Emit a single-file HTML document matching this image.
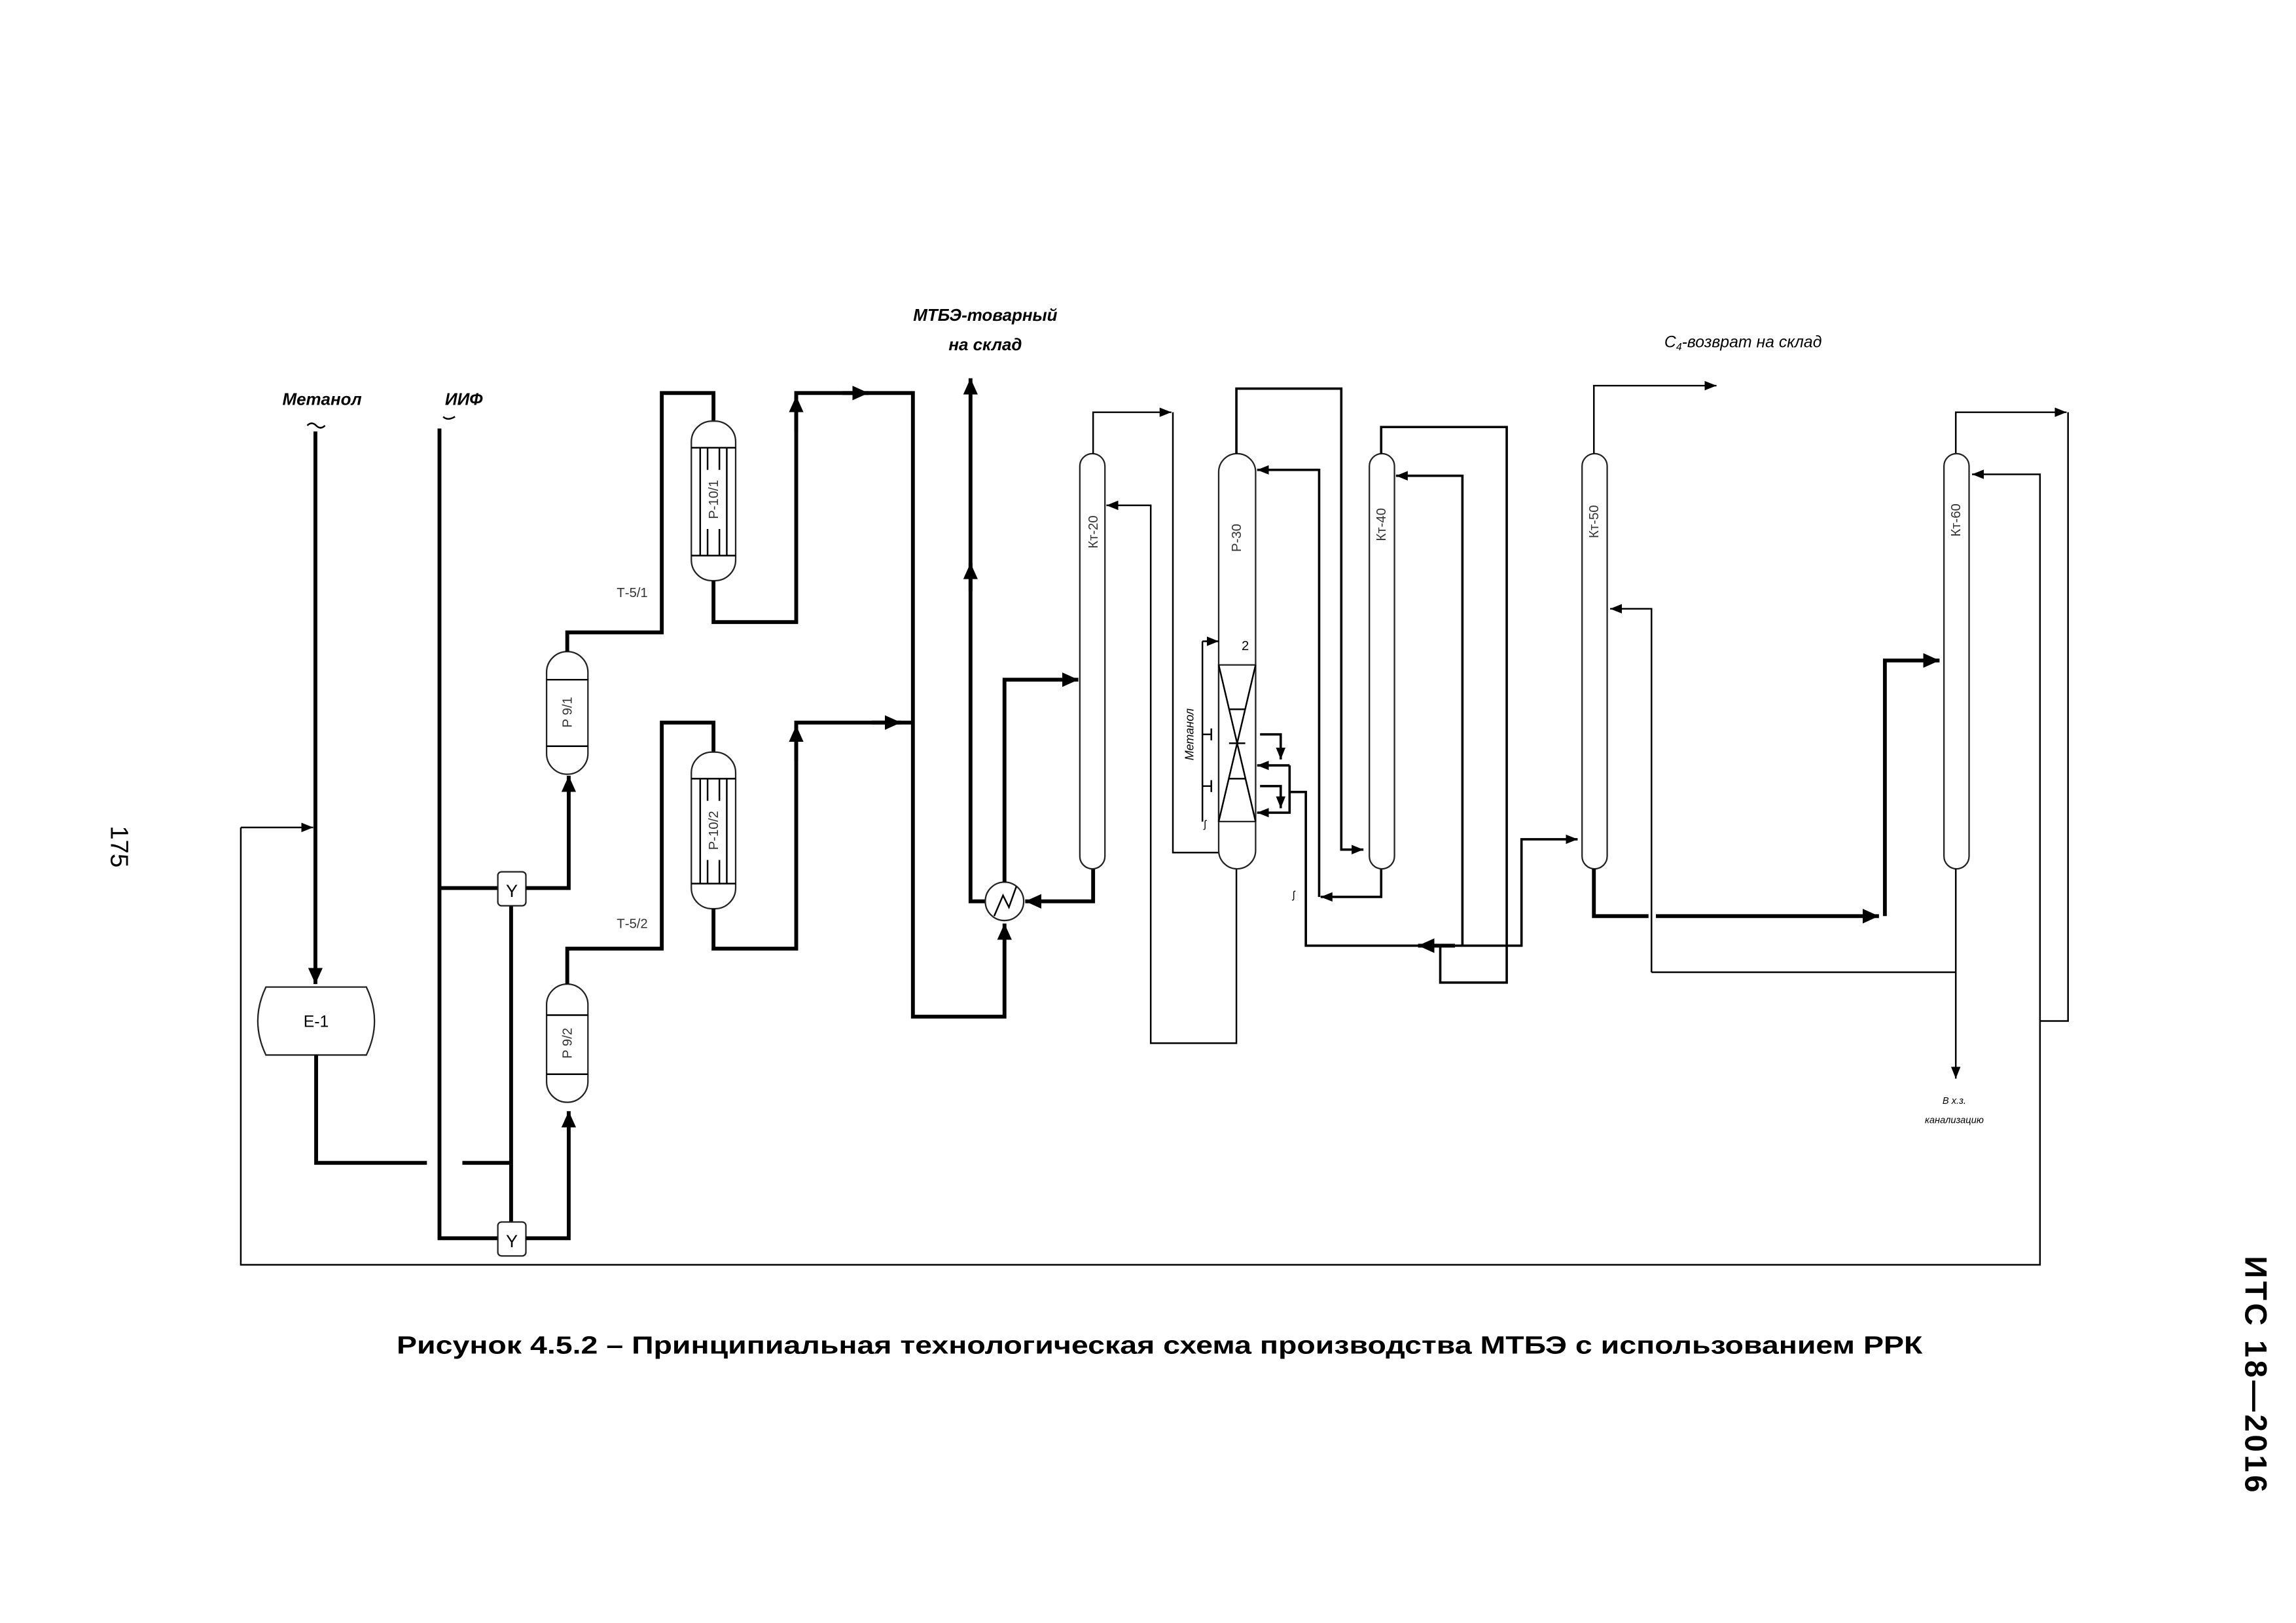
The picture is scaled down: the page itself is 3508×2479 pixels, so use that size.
<!DOCTYPE html>
<html><head><meta charset="utf-8"><style>
html,body{margin:0;padding:0;background:#fff;}
svg{display:block}
.t{fill:none;stroke:#000;stroke-width:2.6}
.n{fill:none;stroke:#000;stroke-width:1.1}
.m{fill:none;stroke:#000;stroke-width:1.6}
.v{fill:#fff;stroke:#222;stroke-width:1}
text{font-family:"Liberation Sans",sans-serif;fill:#000}
.lb{font-size:9px;fill:#333}
</style></head><body>
<svg width="3508" height="2479" viewBox="0 0 1554.3 1098.4" xmlns="http://www.w3.org/2000/svg">
<defs>
<marker id="a" viewBox="0 0 10 10" refX="10" refY="5" markerWidth="11" markerHeight="11" markerUnits="userSpaceOnUse" orient="auto"><path d="M0,0.5 L10,5 L0,9.5z" fill="#000"/></marker>
<marker id="b" viewBox="0 0 10 10" refX="10" refY="5" markerWidth="8" markerHeight="8" markerUnits="userSpaceOnUse" orient="auto"><path d="M0,1 L10,5 L0,9z" fill="#000"/></marker>
</defs>

<!-- page texts -->
<text x="75" y="573" font-size="17" transform="rotate(90 75 573)" text-anchor="middle">175</text>
<text x="1520" y="930" font-size="21" font-weight="bold" transform="rotate(90 1520 930)" text-anchor="middle" textLength="160">ИТС 18—2016</text>
<text x="785" y="916" font-size="17" font-weight="bold" text-anchor="middle" textLength="1033" lengthAdjust="spacingAndGlyphs">Рисунок 4.5.2 – Принципиальная технологическая схема производства МТБЭ с использованием РРК</text>

<!-- labels -->
<text x="218" y="274" font-size="11.5" font-weight="bold" font-style="italic" text-anchor="middle">Метанол</text>
<path class="n" d="M208,288 q3,-3 6,0 q3,3 6,0"/>
<text x="314" y="274" font-size="11.5" font-weight="bold" font-style="italic" text-anchor="middle">ИИФ</text>
<path class="n" d="M300,282 q3,3 8,0"/>
<text x="667" y="217" font-size="11.5" font-weight="bold" font-style="italic" text-anchor="middle">МТБЭ-товарный</text>
<text x="667" y="237" font-size="11.5" font-weight="bold" font-style="italic" text-anchor="middle">на склад</text>
<text x="1180" y="235" font-size="11" font-style="italic" text-anchor="middle" fill="#333">С<tspan font-size="7" dy="2">4</tspan><tspan dy="-2">-возврат на склад</tspan></text>
<text x="1323" y="747" font-size="6.5" font-style="italic" text-anchor="middle" fill="#333">В х.з.</text>
<text x="1323" y="760" font-size="6.5" font-style="italic" text-anchor="middle" fill="#333">канализацию</text>
<text x="428" y="404" class="lb" text-anchor="middle">Т-5/1</text>
<text x="428" y="628" class="lb" text-anchor="middle">Т-5/2</text>

<!-- left feed -->
<path class="t" d="M213.5,292 V666" marker-end="url(#a)"/>
<path class="n" d="M163,560 H212" marker-end="url(#b)"/>
<path class="n" d="M163,560 V856 H1381 V321 H1335" marker-end="url(#b)"/>
<path class="n" d="M1324,307 V279 H1399" marker-end="url(#b)"/>
<path class="n" d="M1400,279 V691 H1381"/>

<!-- E-1 -->
<path class="v" d="M180,668 H248 Q259,691 248,714 H180 Q169,691 180,668Z"/>
<text x="214" y="695" font-size="11" text-anchor="middle" fill="#333">E-1</text>
<path class="t" d="M214,714 V787 H289 M313,787 H346"/>
<path class="t" d="M297.5,290 V838 H337 M297.5,601 H337 M346,613 V827"/>
<rect x="337" y="590" width="19" height="23" rx="2.5" class="v" stroke-width="1.6"/>
<text x="346.5" y="607" font-size="12" text-anchor="middle">Y</text>
<rect x="337" y="827" width="19" height="23" rx="2.5" class="v" stroke-width="1.6"/>
<text x="346.5" y="844" font-size="12" text-anchor="middle">Y</text>
<path class="t" d="M356,601 H385 V525" marker-end="url(#a)"/>
<path class="t" d="M356,838 H385 V752" marker-end="url(#a)"/>

<!-- P9 -->
<rect x="370" y="441" width="28" height="83" rx="14" class="v"/>
<path class="n" d="M370,460 H398 M370,505 H398"/>
<text x="384" y="482" class="lb" text-anchor="middle" transform="rotate(-90 384 482)" dy="3">P 9/1</text>
<rect x="370" y="666" width="28" height="80" rx="14" class="v"/>
<path class="n" d="M370,687 H398 M370,727 H398"/>
<text x="384" y="706" class="lb" text-anchor="middle" transform="rotate(-90 384 706)" dy="3">P 9/2</text>

<!-- P10 -->
<path class="t" d="M384,441 V428 H448 V266 H483 V285"/>
<rect x="468" y="285" width="30" height="108" rx="14" class="v"/>
<path class="n" d="M468,303 H498 M468,376 H498 M474,303 V376 M479,303 V376 M487,303 V376 M492,303 V376"/>
<rect x="478" y="318" width="10" height="40" fill="#fff"/>
<text x="483" y="338" class="lb" text-anchor="middle" transform="rotate(-90 483 338)" dy="3">P-10/1</text>
<path class="t" d="M483,393 V421 H539 V266 H618 V688 H680 V625" marker-end="url(#a)"/>
<path class="t" d="M539,292 V268" marker-end="url(#a)"/>
<path class="t" d="M570,266 H588" marker-end="url(#a)"/>

<path class="t" d="M384,666 V642 H448 V489 H483 V509"/>
<rect x="468" y="509" width="30" height="106" rx="14" class="v"/>
<path class="n" d="M468,527 H498 M468,598 H498 M474,527 V598 M479,527 V598 M487,527 V598 M492,527 V598"/>
<rect x="478" y="542" width="10" height="40" fill="#fff"/>
<text x="483" y="562" class="lb" text-anchor="middle" transform="rotate(-90 483 562)" dy="3">P-10/2</text>
<path class="t" d="M483,615 V642 H539 V489 H618"/>
<path class="t" d="M539,515 V491" marker-end="url(#a)"/>
<path class="t" d="M590,489 H610" marker-end="url(#a)"/>

<!-- product / exchanger -->
<path class="t" d="M667,610 H657 V256" marker-end="url(#a)"/>
<path class="t" d="M657,400 V381" marker-end="url(#a)"/>
<circle cx="680" cy="610" r="13" class="v" stroke="#000" stroke-width="1.6"/>
<path class="n" d="M673,620 L679,606 L683,614 L688,600"/>
<path class="t" d="M680,597 V460 H730" marker-end="url(#a)"/>
<path class="t" d="M740,588 V610 H694" marker-end="url(#a)"/>

<!-- Kt-20 -->
<rect x="731" y="307" width="17" height="281" rx="8.5" class="v"/>
<text x="740" y="360" class="lb" text-anchor="middle" transform="rotate(-90 740 360)" dy="3">Кт-20</text>
<path class="n" d="M740,307 V279 H793" marker-end="url(#b)"/>
<path class="n" d="M794,279 V577 H825"/>
<path class="n" d="M837,588 V706 H779 V342 H749" marker-end="url(#b)"/>

<!-- P-30 -->
<rect x="825" y="307" width="25" height="281" rx="12.5" class="v"/>
<text x="837" y="364" class="lb" text-anchor="middle" transform="rotate(-90 837 364)" dy="3">Р-30</text>
<rect x="825" y="450" width="25" height="106" class="v"/>
<path class="n" d="M825,450 L850,556 M850,450 L825,556 M832,480 H843 M832,503 H843 M832,527 H843"/>
<text x="843" y="440" font-size="9" text-anchor="middle">2</text>
<path class="m" d="M837,307 V263 H908 V575 H923" marker-end="url(#b)"/>
<path class="m" d="M935,588 V607 H894" marker-end="url(#b)"/>
<path class="m" d="M893,607 V318 H851" marker-end="url(#b)"/>
<!-- methanol side -->
<path class="n" d="M814,434 V556 M814,434 H824"/>
<path class="n" d="M816,434 H825" marker-end="url(#b)"/>
<path class="n" d="M814,497 H820 M820,493 V501 M814,532 H820 M820,528 V536"/>
<text x="808" y="497" font-size="8" font-style="italic" text-anchor="middle" transform="rotate(-90 808 497)" fill="#333">Метанол</text>
<text x="815" y="560" font-size="7" fill="#333">ʃ</text>
<text x="875" y="608" font-size="7" fill="#333">ʃ</text>
<path class="m" d="M853,497 H867 V514" marker-end="url(#b)"/>
<path class="m" d="M873,518 H851" marker-end="url(#b)"/>
<path class="m" d="M873,518 V550 H851" marker-end="url(#b)"/>
<path class="m" d="M853,532 H867 V547" marker-end="url(#b)"/>
<path class="m" d="M873,536 H884 V640 H1030 V568 H1068" marker-end="url(#b)"/>
<path class="t" d="M985,640 H960" marker-end="url(#a)"/>

<!-- Kt-40 -->
<rect x="927" y="307" width="17" height="281" rx="8.5" class="v"/>
<text x="935" y="355" class="lb" text-anchor="middle" transform="rotate(-90 935 355)" dy="3">Кт-40</text>
<path class="m" d="M935,307 V289 H1020 V665 H975 V640"/>
<path class="m" d="M990,640 V322 H945" marker-end="url(#b)"/>

<!-- Kt-50 -->
<rect x="1071" y="307" width="17" height="281" rx="8.5" class="v"/>
<text x="1079" y="353" class="lb" text-anchor="middle" transform="rotate(-90 1079 353)" dy="3">Кт-50</text>
<path class="n" d="M1079,307 V261 H1162" marker-end="url(#b)"/>
<path class="t" d="M1079,588 V620 H1116 M1121,620 H1272" marker-end="url(#a)"/>
<path class="t" d="M1276,620 V447 H1313" marker-end="url(#a)"/>
<path class="n" d="M1118,658 V412 H1090" marker-end="url(#b)"/>
<path class="n" d="M1118,658 H1324"/>

<!-- Kt-60 -->
<rect x="1316" y="307" width="17" height="281" rx="8.5" class="v"/>
<text x="1324" y="352" class="lb" text-anchor="middle" transform="rotate(-90 1324 352)" dy="3">Кт-60</text>
<path class="n" d="M1324,588 V730" marker-end="url(#b)"/>
</svg>
</body></html>
